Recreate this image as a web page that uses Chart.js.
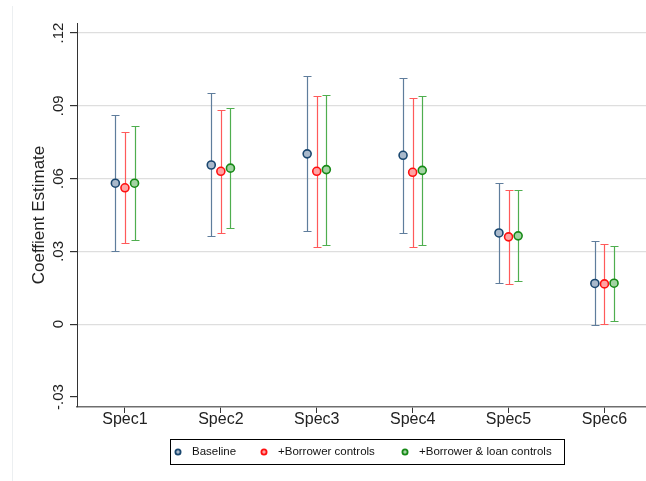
<!DOCTYPE html>
<html><head><meta charset="utf-8">
<script src="https://cdn.jsdelivr.net/npm/chart.js@4.4.1/dist/chart.umd.min.js"></script>
<style>
html,body{margin:0;padding:0;overflow:hidden;background:#fff;width:646px;height:481px}
#wrap{position:absolute;left:0;top:0;width:658px;height:481px}
</style>
</head><body><div id="wrap"><canvas id="c" width="658" height="481"></canvas></div>
<script>
const categories = ['Spec1','Spec2','Spec3','Spec4','Spec5','Spec6'];
const seriesNames = ['Baseline','+Borrower controls','+Borrower & loan controls'];

const baselineEst = [0.0581, 0.0656, 0.0702, 0.0696, 0.0376, 0.0168];
const baselineLo  = [0.0300, 0.0363, 0.0383, 0.0376, 0.0170, -0.0005];
const baselineHi  = [0.0861, 0.0952, 0.1021, 0.1016, 0.0580, 0.0341];

const borrowerEst = [0.0562, 0.0630, 0.0630, 0.0626, 0.0360, 0.0166];
const borrowerLo  = [0.0333, 0.0375, 0.0320, 0.0320, 0.0165, 0.0000];
const borrowerHi  = [0.0791, 0.0883, 0.0942, 0.0934, 0.0552, 0.0331];

const loanEst = [0.0581, 0.0643, 0.0637, 0.0634, 0.0364, 0.0169];
const loanLo  = [0.0347, 0.0396, 0.0328, 0.0328, 0.0178, 0.0014];
const loanHi  = [0.0815, 0.0889, 0.0946, 0.0939, 0.0552, 0.0321];

const yTickValues = [-0.03, 0, 0.03, 0.06, 0.09, 0.12];
const yTickLabels = ['-.03', '0', '.03', '.06', '.09', '.12'];

const FONT = "'Liberation Sans', Arial, Helvetica, sans-serif";
const seriesOffsets = [-0.1, 0, 0.1];
const seriesStyle = [
  {border:'#1a476f', fill:'#a9b9cb', bar:'#5f7d9c'},
  {border:'#ff1010', fill:'#ffa3a3', bar:'#ff5a5a'},
  {border:'#178a17', fill:'#a3d3a3', bar:'#4fae4f'}
];
const ests = [baselineEst, borrowerEst, loanEst];
const los = [baselineLo, borrowerLo, loanLo];
const his = [baselineHi, borrowerHi, loanHi];

const datasets = seriesNames.map((name, s) => ({
  type: 'scatter',
  label: name,
  data: ests[s].map((v, i) => ({x: i + 1 + seriesOffsets[s], y: v})),
  lo: los[s], hi: his[s],
  barColor: seriesStyle[s].bar,
  pointRadius: 4,
  pointBorderWidth: 1.6,
  pointBackgroundColor: seriesStyle[s].fill,
  pointBorderColor: seriesStyle[s].border,
  pointHoverRadius: 4
}));

const errorBars = {
  id: 'errorBars',
  beforeDatasetsDraw(chart) {
    const ctx = chart.ctx, y = chart.scales.y;
    chart.data.datasets.forEach((ds, di) => {
      const meta = chart.getDatasetMeta(di);
      ctx.save();
      ctx.strokeStyle = ds.barColor;
      ctx.lineWidth = 1.2;
      meta.data.forEach((pt, i) => {
        const x = Math.round(pt.x) + 0.5;
        const yl = Math.round(y.getPixelForValue(ds.lo[i])) + 0.5;
        const yh = Math.round(y.getPixelForValue(ds.hi[i])) + 0.5;
        ctx.beginPath();
        ctx.moveTo(x, yl); ctx.lineTo(x, yh);
        ctx.moveTo(x - 4, yl); ctx.lineTo(x + 4, yl);
        ctx.moveTo(x - 4, yh); ctx.lineTo(x + 4, yh);
        ctx.stroke();
      });
      ctx.restore();
    });
  }
};

const decor = {
  id: 'decor',
  afterDraw(chart) {
    const ctx = chart.ctx, ys = chart.scales.y;
    ctx.save();
    ctx.strokeStyle = '#eceff1'; ctx.lineWidth = 1;
    ctx.beginPath(); ctx.moveTo(12.5, 6); ctx.lineTo(12.5, 481); ctx.stroke();
    ctx.fillStyle = '#222';
    ctx.font = '15px ' + FONT;
    ctx.textAlign = 'center'; ctx.textBaseline = 'alphabetic';
    ys.ticks.forEach(t => {
      const idx = yTickValues.indexOf(t.value);
      const py = ys.getPixelForValue(t.value);
      ctx.save();
      ctx.translate(63, py);
      ctx.rotate(-Math.PI / 2);
      ctx.fillText(yTickLabels[idx], 0, 0);
      ctx.restore();
    });
    ctx.strokeStyle = '#000'; ctx.lineWidth = 1;
    ctx.strokeRect(170.5, 439.5, 394, 25);
    const markerX = [178, 264, 405];
    ctx.font = '11.5px ' + FONT;
    ctx.textAlign = 'left'; ctx.textBaseline = 'middle';
    chart.data.datasets.forEach((ds, i) => {
      ctx.beginPath();
      ctx.arc(markerX[i], 452, 2.6, 0, Math.PI * 2);
      ctx.fillStyle = ds.pointBackgroundColor; ctx.fill();
      ctx.strokeStyle = ds.pointBorderColor; ctx.lineWidth = 1.8; ctx.stroke();
      ctx.fillStyle = '#111';
      ctx.fillText(ds.label, markerX[i] + 14, 452);
    });
    ctx.restore();
  }
};

new Chart(document.getElementById('c'), {
  data: {datasets},
  plugins: [errorBars, decor],
  options: {
    responsive: false,
    animation: false,
    layout: {padding: {top: 23, left: 0, right: 0, bottom: 0}},
    plugins: {legend: {display: false}, tooltip: {enabled: false}},
    scales: {
      x: {
        type: 'linear', min: 0.5, max: 6.5,
        afterBuildTicks: s => { s.ticks = categories.map((c, i) => ({value: i + 1})); },
        afterFit: s => { s.height = 74; },
        ticks: {callback: v => categories[Math.round(v) - 1], font: {family: FONT, size: 16}, color: '#222', padding: -3, maxRotation: 0, autoSkip: false},
        grid: {drawOnChartArea: false, drawTicks: true, tickLength: 6, tickColor: '#333'},
        border: {color: '#6e6e6e', width: 1.5}
      },
      y: {
        min: -0.03412, max: 0.12412,
        afterBuildTicks: s => { s.ticks = yTickValues.map(v => ({value: v})); },
        afterFit: s => { s.width = 77; },
        ticks: {display: false},
        grid: {color: c => (c.tick && c.tick.value < -0.01) ? 'rgba(0,0,0,0)' : '#dedede', lineWidth: 1.2, tickColor: '#333', tickLength: 7},
        border: {color: '#333', width: 1},
        title: {display: true, text: 'Coeffient Estimate', font: {family: FONT, size: 17}, color: '#222', padding: {top: 29, bottom: 0}}
      }
    }
  }
});
</script>
</body></html>
